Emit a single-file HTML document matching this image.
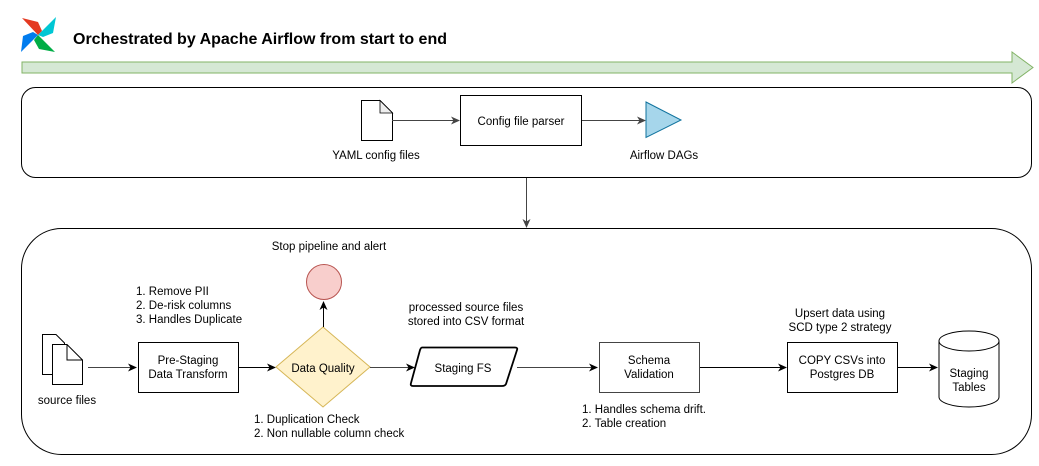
<!DOCTYPE html>
<html><head><meta charset="utf-8"><style>
html,body{margin:0;padding:0;background:#fff;}
svg text{font-family:"Liberation Sans",Helvetica,Arial,sans-serif;font-size:11.5px;fill:#000;}
</style></head><body>
<svg width="1039" height="461" viewBox="0 0 1039 461" xmlns="http://www.w3.org/2000/svg">
<defs>
<marker id="a" markerWidth="10" markerHeight="10" refX="8" refY="5" orient="auto" markerUnits="userSpaceOnUse">
<path d="M0,1 L9,5 L0,9 L2.5,5 Z" fill="#000"/></marker>
<marker id="g" markerWidth="10" markerHeight="10" refX="8" refY="5" orient="auto" markerUnits="userSpaceOnUse">
<path d="M0,1 L9,5 L0,9 L2.5,5 Z" fill="#444"/></marker>
</defs>
<!-- logo -->
<g>
<polygon points="38,35 22,18 38,22 42,31" fill="#e43921"/>
<polygon points="38,35 56,17 53,33 43,37" fill="#00c7d4"/>
<polygon points="38,35 55,52 39,49 34,40" fill="#00ad46"/>
<polygon points="38,35 21,52 23,36 33,32" fill="#017cee"/>
</g>
<text x="73" y="44" style="font-size:16px;font-weight:bold">Orchestrated by Apache Airflow from start to end</text>
<!-- green arrow -->
<polygon points="22,62 1012,62 1012,52 1033,67.5 1012,83 1012,73 22,73" fill="#d5e8d4" stroke="#82b366" stroke-width="1"/>
<!-- top box -->
<rect x="21.5" y="87.5" width="1010" height="90" rx="14" fill="none" stroke="#000"/>
<path d="M361.5,100.5 H380 L392.5,113 V140.5 H361.5 Z" fill="#fff" stroke="#000"/>
<path d="M380,100.5 V113 H392.5 Z" fill="#eee" stroke="#000" stroke-width="0.8"/>
<text x="376" y="159" text-anchor="middle">YAML config files</text>
<line x1="392" y1="120.5" x2="459" y2="120.5" stroke="#444" marker-end="url(#g)"/>
<rect x="460.5" y="95.5" width="121" height="50" fill="#fff" stroke="#000"/>
<text x="521" y="125" text-anchor="middle">Config file parser</text>
<line x1="582" y1="120.5" x2="645" y2="120.5" stroke="#444" marker-end="url(#g)"/>
<polygon points="646,102 681,120 646,137.5" fill="#a6d6eb" stroke="#10739e"/>
<text x="664" y="159" text-anchor="middle">Airflow DAGs</text>
<line x1="526.5" y1="178" x2="526.5" y2="227" stroke="#444" marker-end="url(#g)"/>
<!-- bottom box -->
<rect x="21.5" y="228.5" width="1010" height="226" rx="40" fill="none" stroke="#000"/>
<text x="329" y="250" text-anchor="middle">Stop pipeline and alert</text>
<circle cx="324" cy="282" r="17.5" fill="#f8cecc" stroke="#b85450"/>
<text x="136" y="295">1. Remove PII</text>
<text x="136" y="309">2. De-risk columns</text>
<text x="136" y="323">3. Handles Duplicate</text>
<!-- source files -->
<path d="M42.5,334.5 H56 L64.5,343 V374.5 H42.5 Z" fill="#fff" stroke="#000"/>
<path d="M52.5,344.5 H67 L82.5,360 V384.5 H52.5 Z" fill="#fff" stroke="#000"/>
<path d="M67,344.5 V360 H82.5" fill="none" stroke="#000"/>
<text x="67" y="404" text-anchor="middle">source files</text>
<line x1="88" y1="367.5" x2="136" y2="367.5" stroke="#444" marker-end="url(#a)"/>
<rect x="138.5" y="342.5" width="100" height="50" fill="#fff" stroke="#000"/>
<text x="188" y="364" text-anchor="middle">Pre-Staging</text>
<text x="188" y="378" text-anchor="middle">Data Transform</text>
<line x1="239" y1="367.5" x2="275" y2="367.5" stroke="#000" marker-end="url(#a)"/>
<polygon points="276,367 323,327 370,367 323,407" fill="#fff2cc" stroke="#d6b656"/>
<text x="323" y="372" text-anchor="middle">Data Quality</text>
<line x1="323.5" y1="327" x2="323.5" y2="302" stroke="#000" marker-end="url(#a)"/>
<text x="254" y="423">1.  Duplication Check</text>
<text x="254" y="437">2.  Non nullable column check</text>
<line x1="370" y1="367.5" x2="414" y2="367.5" stroke="#444" marker-end="url(#a)"/>
<text x="466" y="311" text-anchor="middle">processed source files</text>
<text x="466" y="325" text-anchor="middle">stored into CSV format</text>
<path d="M422,347.5 H515 Q518,347.5 517,350 L506,384 Q505,386 502,386 H413 Q410,386 411,383 L420,350 Q421,347.5 422,347.5 Z" fill="#fff" stroke="#000" stroke-width="1.8"/>
<text x="463" y="372" text-anchor="middle">Staging FS</text>
<line x1="517" y1="367.5" x2="597" y2="367.5" stroke="#444" marker-end="url(#a)"/>
<rect x="599.5" y="342.5" width="100" height="50" fill="#fff" stroke="#444"/>
<text x="649" y="364" text-anchor="middle">Schema</text>
<text x="649" y="378" text-anchor="middle">Validation</text>
<text x="582" y="413">1. Handles schema drift.</text>
<text x="582" y="427">2. Table creation</text>
<line x1="700" y1="367.5" x2="786" y2="367.5" stroke="#000" marker-end="url(#a)"/>
<text x="840" y="317" text-anchor="middle">Upsert data using</text>
<text x="840" y="331" text-anchor="middle">SCD type 2 strategy</text>
<rect x="787.5" y="342.5" width="110" height="50" fill="#fff" stroke="#000"/>
<text x="842" y="364" text-anchor="middle">COPY CSVs into</text>
<text x="842" y="378" text-anchor="middle">Postgres DB</text>
<line x1="898" y1="367.5" x2="937" y2="367.5" stroke="#000" marker-end="url(#a)"/>
<path d="M939,341 A30,10 0 0 1 999,341 V397 A30,10 0 0 1 939,397 Z" fill="#fff" stroke="#000"/>
<path d="M939,341 A30,10 0 0 0 999,341" fill="none" stroke="#000"/>
<text x="969" y="377" text-anchor="middle">Staging</text>
<text x="969" y="391" text-anchor="middle">Tables</text>
</svg>
</body></html>
